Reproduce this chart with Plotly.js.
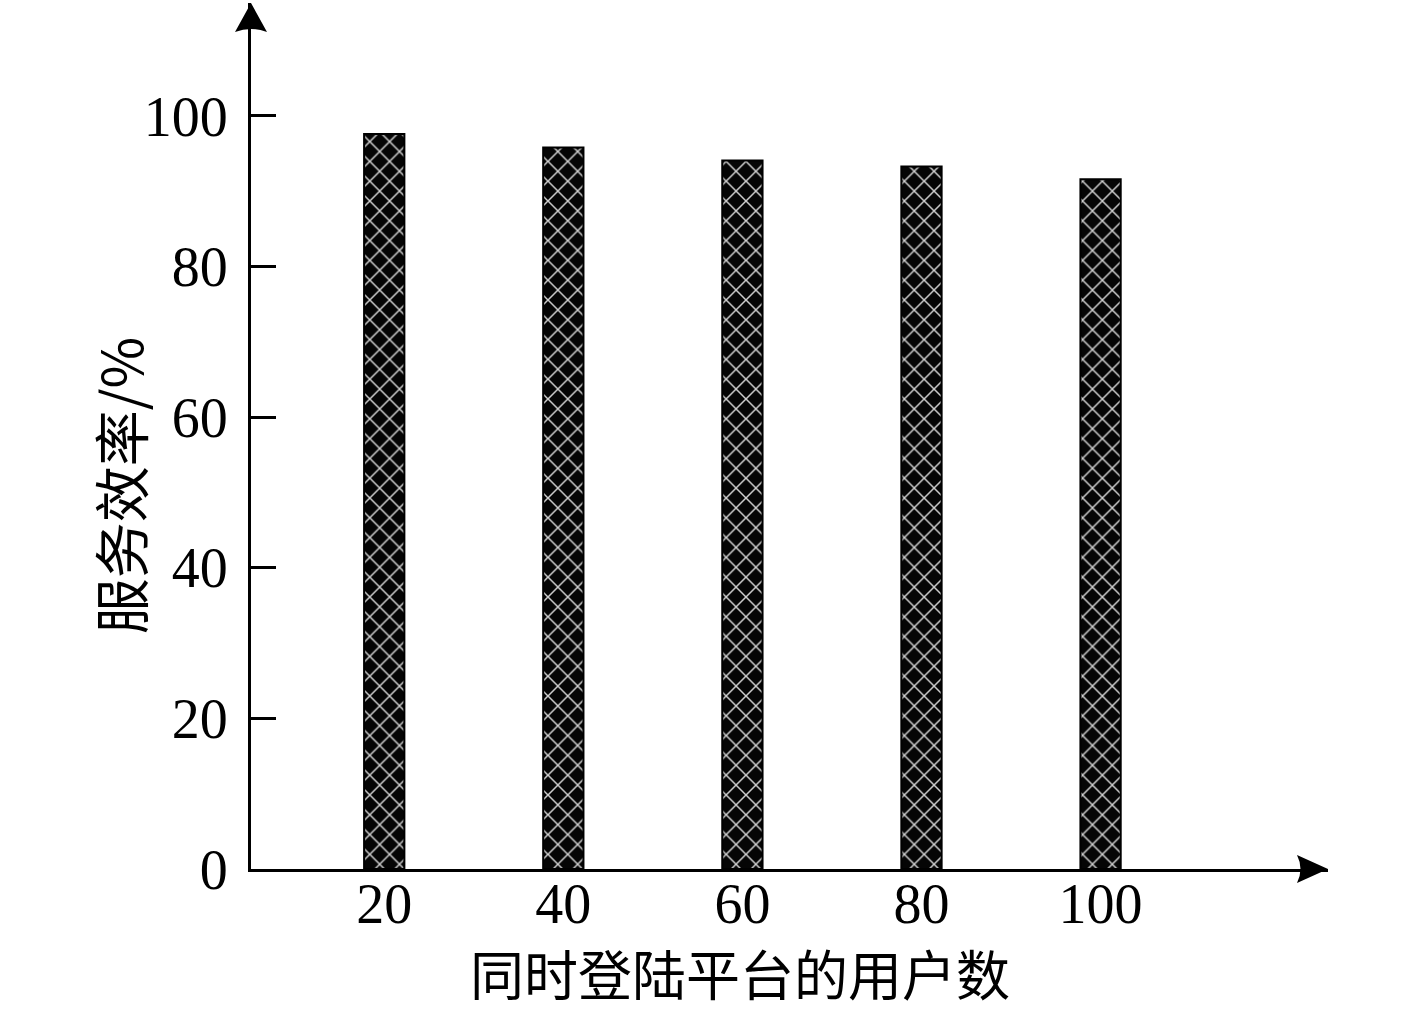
<!DOCTYPE html>
<html>
<head>
<meta charset="utf-8">
<script src="https://cdn.plot.ly/plotly-3.0.1.min.js"></script>
<style>
  html, body { margin: 0; padding: 0; background: #fff; }
  #chart { width: 1417px; height: 1014px; }
</style>
</head>
<body>
<div id="chart"></div>
<script>
// users logged in at the same time
const users = [20, 40, 60, 80, 100];
// service efficiency, %
const efficiency = [97.6, 95.8, 94.1, 93.3, 91.6];
const yTicks = [0, 20, 40, 60, 80, 100];
const xTitle = "同时登陆平台的用户数";
const yTitle = "服务效率/%";

const numFont = "Liberation Serif, Times New Roman, serif";
const cjkFont = "Noto Sans CJK SC, Liberation Serif, serif";

function renderChart() {
  const trace = {
    type: "bar",
    x: users,
    y: efficiency,
    width: 4.5,
    marker: {
      color: "#000",
      line: { color: "#000", width: 2 },
      pattern: {
        shape: "x",
        bgcolor: "#050505",
        fgcolor: "#d0d0d0",
        size: 14,
        solidity: 0.2
      }
    },
    hoverinfo: "x+y"
  };

  const layout = {
    width: 1417,
    height: 1014,
    paper_bgcolor: "#fff",
    plot_bgcolor: "#fff",
    showlegend: false,
    margin: { l: 251, r: 89, t: 3, b: 145 },
    xaxis: {
      range: [5.12, 125.4],
      tickvals: users,
      ticktext: users.map(String),
      ticks: "",
      ticklabelstandoff: -16,
      showgrid: false,
      zeroline: false,
      showline: true,
      linecolor: "#000",
      linewidth: 3,
      tickfont: { family: numFont, size: 56, color: "#000" }
    },
    yaxis: {
      range: [0, 115.0],
      tickvals: yTicks,
      ticks: "inside",
      ticklen: 25,
      tickwidth: 3,
      tickcolor: "#000",
      ticklabelstandoff: 9,
      showgrid: false,
      zeroline: false,
      showline: true,
      linecolor: "#000",
      linewidth: 3,
      tickfont: { family: numFont, size: 56, color: "#000" }
    },
    annotations: [
      {
        text: xTitle,
        xref: "paper", yref: "paper",
        x: 0.4545, y: -0.1195,
        xanchor: "center", yanchor: "middle",
        showarrow: false,
        font: { family: cjkFont, size: 54, color: "#000" }
      },
      {
        text: yTitle,
        xref: "paper", yref: "paper",
        x: -0.1232, y: 0.4434,
        xanchor: "center", yanchor: "middle",
        textangle: -90,
        showarrow: false,
        font: { family: cjkFont, size: 56, color: "#000" }
      }
    ],
    shapes: [
      {
        type: "path",
        xref: "paper", yref: "paper",
        xsizemode: "pixel", ysizemode: "pixel",
        xanchor: 1, yanchor: 0,
        path: "M -31,14 L 0,0 L -31,-14 Q -24,0 -31,14 Z",
        fillcolor: "#000",
        line: { width: 0 }
      },
      {
        type: "path",
        xref: "paper", yref: "paper",
        xsizemode: "pixel", ysizemode: "pixel",
        xanchor: 0, yanchor: 1,
        path: "M -16,-29 L 0,0 L 16,-29 Q 0,-23 -16,-29 Z",
        fillcolor: "#000",
        line: { width: 0 }
      }
    ]
  };

  Plotly.newPlot("chart", [trace], layout, { displayModeBar: false, responsive: false });
}

document.addEventListener("DOMContentLoaded", renderChart);
</script>
</body>
</html>
